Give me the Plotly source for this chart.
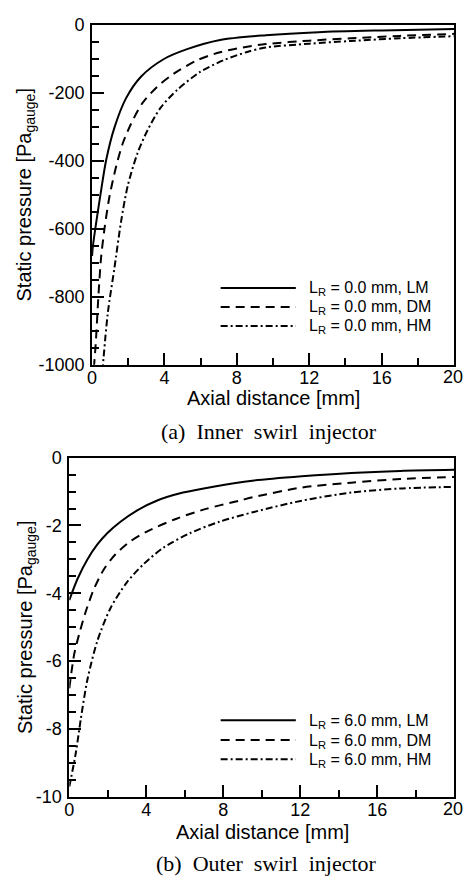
import plotly.graph_objects as go

# ---- (a) inner swirl injector: static pressure [Pa] vs axial distance [mm]
inner_lm_x = [0, 0.05, 0.29, 0.51, 0.78, 1.24, 1.88, 2.70, 3.97, 5.25, 7.07, 9.6, 12.5, 16, 20]
inner_lm_y = [-680, -650, -560, -484, -398, -302, -216, -153, -101, -72, -45, -31, -22, -17, -13]
inner_dm_x = [0.1, 0.2, 0.36, 0.5, 0.69, 0.97, 1.33, 1.69, 2.15, 2.79, 3.61, 4.52, 5.79, 7.07, 8.34, 9.6, 12, 14.3, 17, 20]
inner_dm_y = [-1010, -940, -790, -684, -599, -503, -417, -350, -292, -230, -182, -144, -105, -81, -67, -57, -47, -40, -33, -27]
inner_hm_x = [0.57, 0.87, 1.24, 1.6, 1.97, 2.51, 3.06, 3.79, 4.7, 5.97, 7.25, 8.52, 9.6, 12, 14.3, 17, 20]
inner_hm_y = [-1020, -848, -714, -580, -474, -378, -311, -244, -192, -139, -105, -81, -67, -56, -48, -40, -34]

# ---- (b) outer swirl injector
outer_lm_x = [0, 0.43, 0.94, 1.46, 1.97, 2.66, 3.51, 4.54, 5.91, 7.63, 9.51, 12.08, 14.65, 17.2, 20]
outer_lm_y = [-4.2, -3.57, -3.0, -2.56, -2.23, -1.89, -1.56, -1.27, -1.03, -0.84, -0.68, -0.55, -0.45, -0.39, -0.36]
outer_dm_x = [0, 0.26, 0.51, 0.86, 1.29, 1.8, 2.4, 3.17, 4.03, 5.57, 7.11, 8.83, 9.6, 12.08, 14.65, 17.2, 20]
outer_dm_y = [-6.8, -5.78, -5.21, -4.53, -3.86, -3.29, -2.85, -2.47, -2.18, -1.80, -1.51, -1.27, -1.16, -0.88, -0.74, -0.63, -0.57]
outer_hm_x = [0, 0.34, 0.6, 0.94, 1.46, 2.14, 3.0, 3.86, 4.88, 6.26, 7.8, 9.6, 12.08, 14.65, 17.2, 20]
outer_hm_y = [-9.7, -8.7, -7.70, -6.55, -5.40, -4.44, -3.67, -3.14, -2.66, -2.23, -1.89, -1.6, -1.27, -1.03, -0.91, -0.86]

inner_labels = ["L<sub>R</sub> = 0.0 mm, LM", "L<sub>R</sub> = 0.0 mm, DM", "L<sub>R</sub> = 0.0 mm, HM"]
outer_labels = ["L<sub>R</sub> = 6.0 mm, LM", "L<sub>R</sub> = 6.0 mm, DM", "L<sub>R</sub> = 6.0 mm, HM"]

x_ticks = [0, 4, 8, 12, 16, 20]
inner_y_ticks = [0, -200, -400, -600, -800, -1000]
outer_y_ticks = [0, -2, -4, -6, -8, -10]

W, H = 464, 885
SANS = "Liberation Sans, Arial, sans-serif"
SERIF = "Liberation Serif, Times New Roman, serif"
dashes = ["solid", "9px,6px", "7px,3px,2px,3px"]


def px(x):
    return x / W


def py(y):
    return 1 - y / H


fig = go.Figure()

for xs, ys, d in zip([inner_lm_x, inner_dm_x, inner_hm_x],
                     [inner_lm_y, inner_dm_y, inner_hm_y], dashes):
    fig.add_trace(go.Scatter(x=xs, y=ys, mode="lines", xaxis="x", yaxis="y",
                             line=dict(color="black", width=2, dash=d, shape="spline", smoothing=0.8),
                             showlegend=False, hoverinfo="skip"))

for xs, ys, d in zip([outer_lm_x, outer_dm_x, outer_hm_x],
                     [outer_lm_y, outer_dm_y, outer_hm_y], dashes):
    fig.add_trace(go.Scatter(x=xs, y=ys, mode="lines", xaxis="x2", yaxis="y2",
                             line=dict(color="black", width=2, dash=d, shape="spline", smoothing=0.8),
                             showlegend=False, hoverinfo="skip"))


def x_tick_text(vals):
    # the last label sits at the page edge; it is drawn as a separate annotation
    return [str(v) for v in vals[:-1]] + [""]


def y_tick_text(vals):
    # plain hyphen for the minus sign
    return [str(v) for v in vals]


def xaxis(domain, anchor):
    return dict(domain=domain, anchor=anchor, range=[0, 20], tickvals=x_ticks,
                ticktext=x_tick_text(x_ticks), ticklabelstandoff=-4,
                ticks="inside", ticklen=12, tickwidth=2, tickcolor="black",
                minor=dict(dtick=2, ticks="inside", ticklen=7, tickwidth=2, tickcolor="black"),
                showline=True, linecolor="black", linewidth=2, mirror=True,
                showgrid=False, zeroline=False,
                tickfont=dict(family=SANS, size=18, color="black"))


def yaxis(domain, anchor, rng, ticks, minor):
    return dict(domain=domain, anchor=anchor, range=rng, tickvals=ticks,
                ticktext=y_tick_text(ticks),
                ticks="inside", ticklen=12, tickwidth=2, tickcolor="black",
                minor=dict(dtick=minor, ticks="inside", ticklen=7, tickwidth=2, tickcolor="black"),
                showline=True, linecolor="black", linewidth=2, mirror=True,
                showgrid=False, zeroline=False, ticklabelstandoff=2,
                tickfont=dict(family=SANS, size=18, color="black"))


fig.update_layout(
    width=W, height=H, margin=dict(l=0, r=0, t=0, b=0),
    paper_bgcolor="white", plot_bgcolor="white", showlegend=False,
    xaxis=xaxis([px(88), px(454)], "y"),
    yaxis=yaxis([py(363), py(15)], "x", [-1000, 0], inner_y_ticks, 50),
    xaxis2=xaxis([px(65), px(454)], "y2"),
    yaxis2=yaxis([py(805), py(458)], "x2", [-10, 0], outer_y_ticks, 0.5),
)

ann = []
shapes = []
# axis titles, end tick label "20"
for yc, xc_axis, ymid, xr, yr_ax, y_lab in [(397, 271, 189, "x", "y", 375), (841, 260, 631.5, "x2", "y2", 817)]:
    ann.append(dict(text="Axial distance [mm]", x=px(xc_axis), y=py(yc), xref="paper", yref="paper",
                    showarrow=False, xanchor="center", yanchor="middle",
                    font=dict(family=SANS, size=20, color="black")))
    ann.append(dict(text="Static pressure [Pa<sub>gauge</sub>]", x=px(21), y=py(ymid), xref="paper",
                    yref="paper", showarrow=False, textangle=-90, xanchor="center", yanchor="middle",
                    font=dict(family=SANS, size=20, color="black")))
    ann.append(dict(text=str(x_ticks[-1]), x=px(463.5), y=py(y_lab), xref="paper", yref="paper",
                    showarrow=False, xanchor="right", yanchor="middle", borderpad=0,
                    font=dict(family=SANS, size=18, color="black")))

sp = " \u00a0"
ann.append(dict(text=f"(a){sp}Inner{sp}swirl{sp}injector", x=px(266.5), y=py(431), xref="paper",
                yref="paper", showarrow=False, xanchor="center", yanchor="middle",
                font=dict(family=SERIF, size=22, color="black")))
ann.append(dict(text=f"(b){sp}Outer{sp}swirl{sp}injector", x=px(264), y=py(873), xref="paper",
                yref="paper", showarrow=False, xanchor="center", yanchor="middle",
                font=dict(family=SERIF, size=22, color="black")))

# legend keys
for rows, labels in [([284.3, 303.8, 323.3], inner_labels), ([726.7, 747, 766.7], outer_labels)]:
    for yr, lab, d in zip(rows, labels, dashes):
        shapes.append(dict(type="line", xref="paper", yref="paper", x0=px(218), x1=px(294),
                           y0=py(yr), y1=py(yr), line=dict(color="black", width=2, dash=d)))
        ann.append(dict(text=lab, x=px(305), y=py(yr + 1), xref="paper", yref="paper", showarrow=False,
                        xanchor="left", yanchor="middle", font=dict(family=SANS, size=16, color="black")))

fig.update_layout(annotations=ann, shapes=shapes)
fig.write_html("out.html")
